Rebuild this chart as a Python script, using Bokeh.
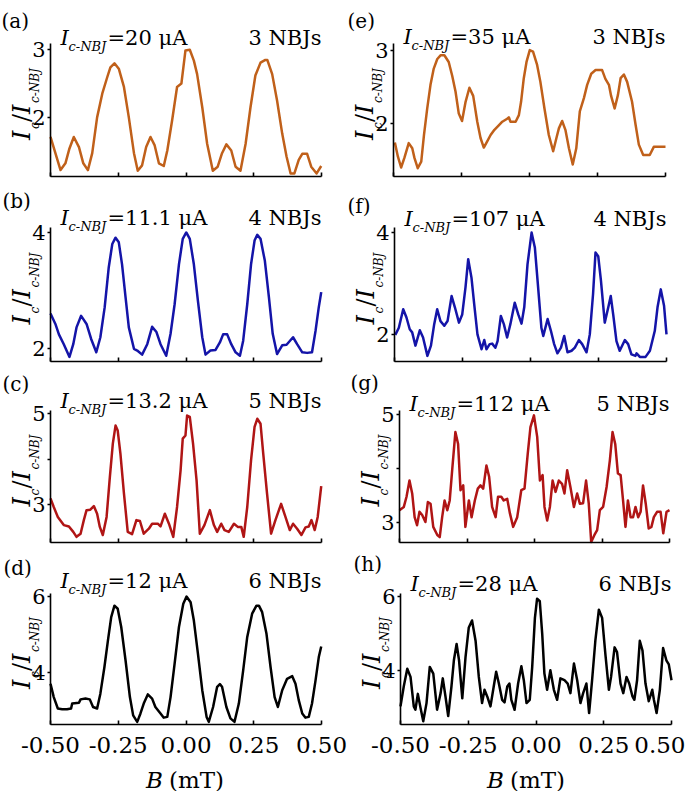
from math import pi
from bokeh.plotting import figure
from bokeh.layouts import column, row
from bokeh.models import Range1d, FixedTicker, Label, PrintfTickFormatter
from bokeh.embed import file_html
from bokeh.resources import INLINE

# ---------------- data (B in mT, Ic / Ic-NBJ) ----------------
B_a = [-0.500,-0.463,-0.445,-0.430,-0.414,-0.395,-0.379,-0.362,-0.346,-0.328,
       -0.309,-0.291,-0.279,-0.264,-0.248,-0.229,-0.211,-0.192,-0.178,-0.162,
       -0.147,-0.131,-0.116,-0.100,-0.082,-0.069,-0.051,-0.033,-0.017,-0.002,
       0.014,0.029,0.041,0.060,0.078,0.099,0.117,0.133,0.149,0.167,
       0.183,0.201,0.220,0.238,0.256,0.275,0.293,0.300,0.318,0.336,
       0.355,0.371,0.386,0.400,0.416,0.429,0.447,0.462,0.482,0.499]
I_a = [1.71,1.22,1.32,1.54,1.71,1.56,1.32,1.22,1.47,2.00,
       2.35,2.59,2.74,2.80,2.72,2.45,2.00,1.47,1.21,1.29,
       1.56,1.71,1.59,1.32,1.28,1.51,1.96,2.45,2.50,2.99,
       3.00,2.84,2.64,2.15,1.61,1.21,1.27,1.47,1.60,1.51,
       1.27,1.21,1.61,2.15,2.62,2.81,2.85,2.85,2.64,2.25,
       1.76,1.42,1.17,1.17,1.37,1.46,1.46,1.27,1.17,1.28]

B_b = [-0.500,-0.482,-0.469,-0.451,-0.430,-0.416,-0.404,-0.387,-0.367,-0.350,
       -0.331,-0.316,-0.300,-0.285,-0.272,-0.260,-0.248,-0.236,-0.223,-0.211,
       -0.192,-0.180,-0.162,-0.143,-0.125,-0.109,-0.094,-0.073,-0.057,-0.042,
       -0.026,-0.012,0.001,0.014,0.029,0.044,0.060,0.072,0.090,0.109,
       0.125,0.137,0.152,0.167,0.183,0.199,0.211,0.226,0.240,0.253,
       0.263,0.275,0.291,0.306,0.320,0.336,0.355,0.371,0.395,0.410,
       0.429,0.447,0.465,0.478,0.490,0.499]
I_b = [2.60,2.42,2.24,2.07,1.85,2.07,2.36,2.56,2.42,2.16,
       1.93,2.19,2.71,3.40,3.80,3.91,3.83,3.45,2.88,2.36,
       1.99,1.96,1.89,2.07,2.37,2.28,2.07,1.87,2.25,2.76,
       3.45,3.89,4.00,3.89,3.45,2.82,2.19,1.89,1.96,1.97,
       2.10,2.24,2.24,2.07,1.93,1.87,2.13,2.76,3.45,3.86,
       3.96,3.89,3.51,2.88,2.25,1.90,2.05,2.06,2.19,2.07,
       1.93,1.92,1.93,2.30,2.71,2.97]

B_c = [-0.500,-0.488,-0.473,-0.451,-0.432,-0.416,-0.404,-0.389,-0.377,-0.367,
       -0.353,-0.340,-0.328,-0.318,-0.307,-0.293,-0.281,-0.270,-0.260,-0.252,
       -0.242,-0.229,-0.215,-0.199,-0.183,-0.170,-0.156,-0.137,-0.125,-0.104,
       -0.094,-0.078,-0.063,-0.047,-0.033,-0.020,-0.012,-0.002,0.004,0.014,
       0.026,0.039,0.051,0.068,0.088,0.103,0.115,0.130,0.142,0.158,
       0.177,0.191,0.204,0.213,0.226,0.240,0.253,0.263,0.275,0.285,
       0.299,0.314,0.330,0.351,0.367,0.383,0.395,0.410,0.426,0.441,
       0.453,0.463,0.475,0.486,0.499]
I_c = [3.13,2.94,2.72,2.54,2.51,2.39,2.28,2.35,2.65,2.87,
       2.88,2.96,2.79,2.50,2.32,2.72,3.60,4.34,4.74,4.63,
       4.12,3.24,2.39,2.34,2.65,2.63,2.35,2.46,2.57,2.57,
       2.51,2.79,2.57,2.28,2.94,3.75,4.45,4.52,4.96,4.93,
       4.34,3.53,2.35,2.54,2.87,2.54,2.39,2.57,2.43,2.39,
       2.57,2.50,2.50,2.28,2.94,3.97,4.71,4.89,4.78,4.12,
       3.24,2.35,2.65,3.01,2.72,2.43,2.57,2.46,2.32,2.49,
       2.51,2.65,2.43,2.72,3.40]

B_d = [-0.500,-0.488,-0.473,-0.457,-0.439,-0.424,-0.420,-0.395,-0.389,-0.371,
       -0.355,-0.343,-0.328,-0.316,-0.301,-0.288,-0.276,-0.264,-0.252,-0.239,
       -0.223,-0.207,-0.195,-0.180,-0.168,-0.156,-0.141,-0.125,-0.113,-0.094,
       -0.082,-0.069,-0.057,-0.042,-0.026,-0.010,0.002,0.017,0.029,0.044,
       0.060,0.076,0.084,0.100,0.115,0.125,0.133,0.149,0.164,0.179,
       0.195,0.211,0.226,0.244,0.260,0.269,0.281,0.297,0.312,0.327,
       0.339,0.355,0.373,0.392,0.404,0.416,0.429,0.441,0.453,0.465,
       0.478,0.490,0.499]
I_d = [3.71,3.36,3.06,3.04,3.04,3.06,3.19,3.21,3.30,3.32,
       3.30,3.10,3.06,3.45,4.15,4.85,5.46,5.76,5.68,5.20,
       4.32,3.36,2.88,2.71,2.93,3.19,3.43,3.32,3.10,2.93,
       2.82,2.84,3.36,4.24,5.20,5.81,6.00,5.85,5.37,4.50,
       3.54,2.84,2.71,3.10,3.63,3.70,3.63,3.10,2.80,2.71,
       3.19,4.06,4.94,5.55,5.76,5.76,5.59,5.02,4.15,3.36,
       3.10,3.54,3.84,3.91,3.71,3.28,2.93,2.82,2.84,3.19,
       3.80,4.41,4.69]

B_e = [-0.495,-0.484,-0.472,-0.460,-0.444,-0.431,-0.423,-0.411,-0.398,-0.388,
       -0.376,-0.364,-0.352,-0.339,-0.327,-0.313,-0.297,-0.284,-0.272,-0.260,
       -0.248,-0.235,-0.221,-0.207,-0.192,-0.180,-0.168,-0.156,-0.143,-0.129,
       -0.113,-0.100,-0.082,-0.076,-0.070,-0.051,-0.039,-0.031,-0.021,-0.011,
       0.001,0.013,0.028,0.040,0.055,0.071,0.087,0.099,0.108,0.120,
       0.132,0.145,0.159,0.172,0.185,0.200,0.212,0.227,0.243,0.267,
       0.279,0.292,0.300,0.313,0.325,0.335,0.347,0.359,0.377,0.390,
       0.402,0.418,0.442,0.457,0.500]
I_e = [1.75,1.56,1.41,1.54,1.74,1.67,1.54,1.40,1.49,1.85,
       2.21,2.53,2.75,2.88,2.93,2.93,2.84,2.65,2.44,2.14,
       2.04,2.30,2.49,2.38,2.03,1.81,1.68,1.76,1.85,1.92,
       1.98,2.03,2.07,2.09,2.03,2.03,2.12,2.30,2.62,2.84,
       3.00,2.98,2.80,2.57,2.21,1.85,1.63,1.81,1.94,2.04,
       1.92,1.67,1.45,1.67,2.17,2.35,2.53,2.68,2.73,2.73,
       2.61,2.53,2.38,2.21,2.39,2.62,2.67,2.57,2.30,1.99,
       1.72,1.58,1.58,1.69,1.69]

B_f = [-0.497,-0.484,-0.468,-0.456,-0.444,-0.435,-0.423,-0.407,-0.395,-0.379,
       -0.366,-0.354,-0.343,-0.331,-0.317,-0.305,-0.290,-0.278,-0.263,-0.251,
       -0.239,-0.229,-0.217,-0.207,-0.195,-0.180,-0.170,-0.162,-0.150,-0.141,
       -0.129,-0.121,-0.109,-0.098,-0.086,-0.074,-0.058,-0.045,-0.033,-0.023,
       -0.011,0.004,0.016,0.028,0.040,0.047,0.063,0.075,0.087,0.099,
       0.112,0.124,0.136,0.151,0.163,0.178,0.190,0.206,0.218,0.230,
       0.239,0.249,0.259,0.273,0.286,0.295,0.304,0.316,0.328,0.347,
       0.359,0.371,0.386,0.390,0.402,0.423,0.439,0.457,0.467,0.479,
       0.491,0.500]
I_f = [2.00,2.14,2.50,2.34,2.11,2.05,1.79,2.09,1.95,1.59,
       1.79,2.21,2.50,2.27,2.18,2.27,2.76,2.54,2.24,2.40,
       2.93,3.48,3.12,2.60,2.01,1.72,1.90,1.72,1.82,1.83,
       1.75,1.88,2.37,2.21,1.95,2.21,2.63,2.40,2.22,2.54,
       3.38,4.00,3.71,2.93,2.14,1.98,2.31,2.08,1.82,1.64,
       1.75,1.98,1.66,1.69,1.75,1.90,1.82,1.66,2.01,2.80,
       3.61,3.54,3.06,2.24,2.54,2.76,2.40,1.88,1.69,1.90,
       1.82,1.62,1.59,1.64,1.57,1.57,1.69,2.08,2.54,2.89,
       2.57,2.01]

B_g = [-0.500,-0.484,-0.474,-0.463,-0.453,-0.444,-0.435,-0.426,-0.416,-0.404,
       -0.395,-0.385,-0.375,-0.360,-0.351,-0.342,-0.333,-0.323,-0.314,-0.304,
       -0.293,-0.283,-0.274,-0.264,-0.256,-0.243,-0.233,-0.221,-0.210,-0.200,
       -0.190,-0.178,-0.168,-0.157,-0.144,-0.135,-0.123,-0.114,-0.101,-0.091,
       -0.079,-0.064,-0.049,-0.037,-0.025,-0.015,-0.002,0.010,0.020,0.030,
       0.037,0.047,0.057,0.067,0.078,0.090,0.102,0.111,0.121,0.133,
       0.146,0.158,0.168,0.180,0.191,0.201,0.210,0.222,0.232,0.242,
       0.254,0.267,0.279,0.289,0.299,0.309,0.319,0.328,0.337,0.346,
       0.356,0.365,0.374,0.384,0.393,0.402,0.412,0.423,0.433,0.442,
       0.454,0.467,0.477,0.489,0.500]
I_g = [3.23,3.29,3.48,3.78,3.54,3.10,2.95,3.20,3.14,3.01,
       3.38,3.35,2.92,2.77,2.73,3.10,3.41,3.23,3.41,4.03,
       4.68,4.46,3.60,3.69,2.92,3.41,3.10,3.41,3.63,3.69,
       3.63,4.06,3.85,3.29,3.10,3.48,3.48,3.41,3.44,3.17,
       2.92,3.10,3.60,3.63,4.28,4.77,4.99,4.59,3.78,3.88,
       3.29,3.04,3.29,3.78,3.57,3.78,3.72,3.54,3.97,3.66,
       3.29,3.54,3.35,3.36,3.78,3.35,2.64,2.77,2.86,3.23,
       3.29,3.66,4.15,4.68,4.46,3.91,3.88,3.41,2.92,3.41,
       3.10,3.10,3.29,3.10,3.20,3.69,3.35,2.89,2.92,3.10,
       3.20,3.20,2.80,3.20,3.23]

B_h = [-0.500,-0.488,-0.475,-0.463,-0.451,-0.445,-0.436,-0.426,-0.416,-0.404,
       -0.392,-0.379,-0.365,-0.352,-0.344,-0.334,-0.324,-0.312,-0.303,-0.293,
       -0.284,-0.272,-0.260,-0.248,-0.236,-0.223,-0.211,-0.199,-0.190,-0.180,
       -0.168,-0.156,-0.147,-0.137,-0.125,-0.116,-0.106,-0.098,-0.091,-0.079,
       -0.066,-0.054,-0.045,-0.035,-0.023,-0.014,-0.004,0.004,0.014,0.023,
       0.031,0.041,0.053,0.066,0.078,0.090,0.105,0.117,0.127,0.140,
       0.152,0.164,0.174,0.186,0.196,0.207,0.219,0.232,0.244,0.256,
       0.269,0.277,0.290,0.299,0.312,0.322,0.334,0.344,0.356,0.363,
       0.373,0.383,0.393,0.404,0.416,0.429,0.435,0.445,0.457,0.469,
       0.481,0.490,0.500]
I_h = [3.02,3.56,4.04,3.82,3.02,2.93,3.36,2.98,2.62,3.11,
       4.09,3.91,2.93,3.38,3.78,3.29,2.76,3.56,4.27,4.71,
       4.27,3.24,4.36,5.16,5.35,4.80,3.82,3.11,3.47,3.29,
       3.02,3.56,3.96,3.64,3.20,3.13,3.56,3.64,3.20,2.93,
       3.64,4.11,3.73,3.11,3.20,4.09,5.42,5.94,5.87,4.98,
       3.91,3.47,4.00,3.47,3.20,3.78,3.73,3.64,3.38,4.18,
       3.73,3.11,3.38,3.64,2.84,3.73,4.80,5.64,5.42,4.44,
       3.47,3.82,4.62,4.49,3.64,3.38,3.82,3.64,3.29,3.20,
       3.73,4.80,4.53,3.64,3.16,3.47,3.20,2.84,3.47,4.60,
       4.27,4.16,3.73]

panel_letters = ["(a)", "(b)", "(c)", "(d)", "(e)", "(f)", "(g)", "(h)"]
ic_nbj_values = ["20", "11.1", "13.2", "12", "35", "107", "112", "28"]
nbj_counts = ["3", "4", "5", "6", "3", "4", "5", "6"]
y_major_ticks = [[2, 3], [2, 4], [3, 5], [4, 6], [2, 3], [2, 4], [3, 5], [4, 6]]
y_minor_ticks = [[], [], [4], [], [], [], [4], []]
x_ticks = [-0.5, -0.25, 0.0, 0.25, 0.5]

B_all = [B_a, B_b, B_c, B_d, B_e, B_f, B_g, B_h]
I_all = [I_a, I_b, I_c, I_d, I_e, I_f, I_g, I_h]

# ---------------- styling / layout ----------------
FONT = "DejaVu Serif"
row_colors = ["#C0601A", "#1414A8", "#B01515", "#000000"]
y_limits = [(1.125, 3.093), (1.771, 4.086), (2.155, 5.073), (2.64, 6.08),
            (1.288, 3.09), (1.48, 4.10), (2.63, 5.08), (2.53, 6.08)]

# pixel geometry of each panel's axes box inside its own canvas
row_height = [180, 184, 181, 246]
row_btop = [43, 47, 46, 48]
row_bbot = [4, 3, 3, 67]
left_width = [344, 344, 344, 352]
left_bright = [23, 23, 23, 31]
right_width = [341, 341, 341, 333]
right_bleft = [49, 50, 55, 48]
right_bright = [20, 19, 16, 14]

letter_dx = [-49, -48, -48, -47, -46, -47, -49, -47]
letter_dy = [23, 27, 27, 26, 23, 22, 28, 30]
header_dy = [6, 10, 10, 13, 7, 9, 7, 10]


def add_text(p, x, y, text, dx, dy, size, style="normal", align="left", angle=0.0):
    p.add_layout(Label(x=x, y=y, x_units="data", y_units="data", text=text,
                       x_offset=dx, y_offset=dy, angle=angle,
                       text_font=FONT, text_font_size=size, text_font_style=style,
                       text_align=align, text_baseline="alphabetic", text_color="black"))


def make_panel(k):
    col = k // 4
    r = k % 4
    if col == 0:
        w, bl, br = left_width[r], 50, left_bright[r]
    else:
        w, bl, br = right_width[r], right_bleft[r], right_bright[r]
    h, bt, bb = row_height[r], row_btop[r], row_bbot[r]
    ylo, yhi = y_limits[k]

    # extend the ranges so that the whole canvas is the plotting frame and
    # the axes box [-0.5, 0.5] x [ylo, yhi] sits at the wanted pixels
    fw = w - bl - br
    fh = h - bt - bb
    kx = 1.0 / fw
    ky = (yhi - ylo) / fh
    x_rng = Range1d(-0.5 - bl * kx, 0.5 + br * kx)
    y_rng = Range1d(ylo - bb * ky, yhi + bt * ky)

    p = figure(width=w, height=h, output_backend="svg", toolbar_location=None,
               x_range=x_rng, y_range=y_rng, min_border=0,
               min_border_left=0, min_border_right=0, min_border_top=0, min_border_bottom=0)
    if p.title is not None:
        p.title.visible = False
    p.grid.visible = False
    p.outline_line_color = None
    p.background_fill_color = "white"
    p.border_fill_color = "white"

    p.line(B_all[k], I_all[k], line_color=row_colors[r], line_width=2.5, line_join="round")

    xa = p.xaxis[0]
    xa.fixed_location = ylo
    xa.bounds = (-0.5, 0.5)
    xa.ticker = FixedTicker(ticks=x_ticks)
    xa.formatter = PrintfTickFormatter(format="%.2f")
    xa.major_tick_in = 4
    xa.major_tick_out = 0
    xa.minor_tick_line_color = None
    xa.axis_line_width = 1.6
    xa.major_tick_line_width = 1.6
    if r == 3:
        xa.major_label_text_font = FONT
        xa.major_label_text_font_size = "23px"
        xa.major_label_standoff = 12
        xa.major_label_text_color = "black"
    else:
        xa.major_label_text_font_size = "0px"
        xa.major_label_standoff = 0
        xa.major_label_text_color = None

    ya = p.yaxis[0]
    ya.fixed_location = -0.5
    ya.bounds = (ylo, yhi)
    ya.ticker = FixedTicker(ticks=y_major_ticks[k], minor_ticks=y_minor_ticks[k])
    ya.formatter = PrintfTickFormatter(format="%d")
    ya.major_tick_in = 0
    ya.major_tick_out = 3
    ya.minor_tick_in = 0
    ya.minor_tick_out = 3
    ya.axis_line_width = 1.6
    ya.major_tick_line_width = 1.6
    ya.minor_tick_line_width = 1.6
    ya.major_label_standoff = 2
    ya.major_label_text_font = FONT
    ya.major_label_text_font_size = "21px"
    ya.major_label_text_color = "black"

    # panel letter and header line
    add_text(p, -0.5, yhi, panel_letters[k], letter_dx[k], letter_dy[k], "20px")
    hd = header_dy[k]
    add_text(p, -0.5, yhi, "I", 10, hd, "21px", "italic")
    add_text(p, -0.5, yhi, "c-NBJ", 18, hd - 9, "13px", "italic")
    add_text(p, -0.5, yhi, "=" + ic_nbj_values[k] + " \u03bcA", 57, hd, "21px")
    add_text(p, 0.5, yhi, nbj_counts[k] + " NBJs", 0, hd, "21px", align="right")

    # rotated y-axis label  I_c / I_c-NBJ
    ymid = 0.5 * (ylo + yhi)
    add_text(p, -0.5, ymid, "I", -29, -30, "24px", "italic", angle=pi / 2)
    add_text(p, -0.5, ymid, "c", -16, -19, "12px", "italic", angle=pi / 2)
    add_text(p, -0.5, ymid, "/", -29, -12, "24px", angle=pi / 2)
    add_text(p, -0.5, ymid, "I", -29, -4, "24px", "italic", angle=pi / 2)
    add_text(p, -0.5, ymid, "c-NBJ", -16, 7, "12px", "italic", angle=pi / 2)

    if r == 3:
        if col == 0:
            add_text(p, 0.0, ylo, "B", -40, -55, "23px", "italic")
            add_text(p, 0.0, ylo, "(mT)", -17, -55, "23px")
        else:
            add_text(p, 0.0, ylo, "B", -49, -55, "23px", "italic")
            add_text(p, 0.0, ylo, "(mT)", -26, -55, "23px")
    return p


panels = [make_panel(k) for k in range(8)]
layout = column(*[row(panels[r], panels[r + 4], spacing=0) for r in range(4)], spacing=0)

open("out.html", "w").write(file_html(layout, INLINE))
